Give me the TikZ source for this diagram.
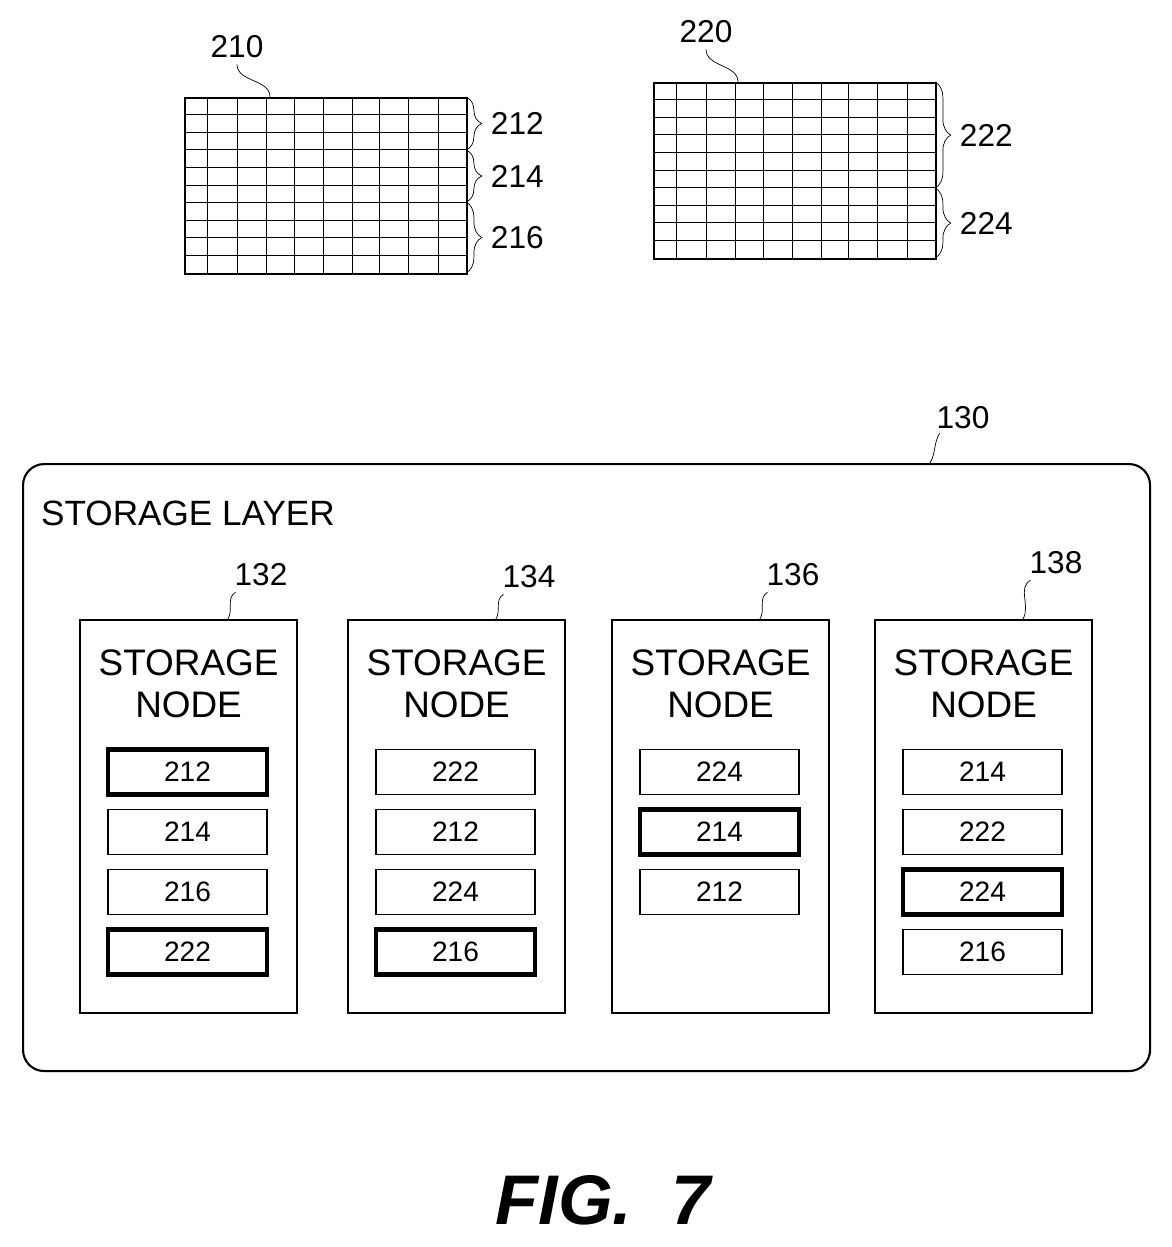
\documentclass[tikz,border=0pt]{standalone}
\usepackage{fontspec}
\setmainfont{Liberation Sans}
\usetikzlibrary{positioning,decorations.pathreplacing,calc}

\begin{document}
\begin{tikzpicture}[x=0.02cm,y=-0.02cm,
    refnum/.style={font=\fontsize{18}{18}\selectfont, inner sep=1pt},
    lead/.style={thin},
    snode/.style={rectangle, draw, very thick, minimum width=217*0.02cm, minimum height=393*0.02cm, anchor=north west, inner sep=0pt},
    blk/.style={rectangle, draw, thick, minimum width=159*0.02cm, minimum height=45*0.02cm, font=\fontsize{16}{16}\selectfont, inner sep=0pt},
    hot/.style={blk, line width=2.6pt},
    brace/.style={decorate, decoration={brace, amplitude=9pt}, thin}
]
\useasboundingbox (0,0) rectangle (1171,1247);

% Data set 210
\foreach \x in {207,237,266,294,323,352,379,408,438} \draw[thin] (\x,97) -- (\x,273);
\foreach \i in {1,...,9} \draw[thin] (184,97+\i*17.6) -- (466,97+\i*17.6);
\node[draw, very thick, minimum width=282*0.02cm, minimum height=176*0.02cm, anchor=north west, inner sep=0pt] (g210) at (184,97) {};
\node[refnum] (n210) at (237,47) {210};
\draw[lead] (n210.south) ++(0,4) to[out=-90,in=90] (270,97);
\draw[brace] (466,97) -- (466,150) node[midway, right=13pt, refnum] (n212) {212};
\draw[brace] (466,150) -- (466,202) node[midway, right=13pt, refnum] (n214) {214};
\draw[brace] (466,202) -- (466,273) node[midway, right=13pt, refnum] (n216) {216};

% Data set 220
\foreach \x in {676,706,735,763,792,821,848,877,907} \draw[thin] (\x,82) -- (\x,258);
\foreach \i in {1,...,9} \draw[thin] (653,82+\i*17.6) -- (935,82+\i*17.6);
\node[draw, very thick, minimum width=282*0.02cm, minimum height=176*0.02cm, anchor=north west, inner sep=0pt] (g220) at (653,82) {};
\node[refnum] (n220) at (706,32) {220};
\draw[lead] (n220.south) ++(0,4) to[out=-90,in=90] (738,82);
\draw[brace] (935,82) -- (935,188) node[midway, right=13pt, refnum] (n222) {222};
\draw[brace] (935,188) -- (935,258) node[midway, right=13pt, refnum] (n224) {224};

% Storage layer
\node[draw, very thick, rounded corners=12pt, minimum width=1127*0.02cm, minimum height=607*0.02cm, anchor=north west] (layer) at (22,463) {};
\node[anchor=west, font=\fontsize{20}{20}\selectfont] (title) at (35,513) {STORAGE LAYER};
\node[refnum] (n130) at (963,418) {130};
\draw[lead] (n130.south west) ++(5,2) to[out=-120,in=60] (930,463);

% Storage nodes
\foreach \nx/\num/\ny/\a/\b/\c/\d/\ha/\hb/\hc/\hd in {
    79/132/575/212/214/216/222/hot/blk/blk/hot,
    347/134/577/222/212/224/216/blk/blk/blk/hot,
    611/136/575/224/214/212//blk/hot/blk/,
    874/138/563/214/222/224/216/blk/blk/hot/blk} {
  \node[snode] (sn\num) at (\nx,619) {};
  \node[align=center, font=\fontsize{21}{24}\selectfont, below=14pt of sn\num.north] (lbl\num) {STORAGE\\NODE};
  \node[refnum] (n\num) at (\nx+182,\ny) {\num};
  \draw[lead] (n\num.south west) ++(3,4) to[out=-150,in=60] (\nx+149,619);
  \node[\ha] (b\num a) at (\nx+108.5,772) {\a};
  \node[\hb] (b\num b) at (\nx+108.5,832) {\b};
  \node[\hc] (b\num c) at (\nx+108.5,892) {\c};
  \ifx\d\empty\else \node[\hd] (b\num d) at (\nx+108.5,952) {\d}; \fi
}

% Figure caption
\node[font=\fontsize{40}{40}\selectfont\bfseries\itshape] (fig) at (603,1200) {FIG.\ \ 7};
\end{tikzpicture}
\end{document}
